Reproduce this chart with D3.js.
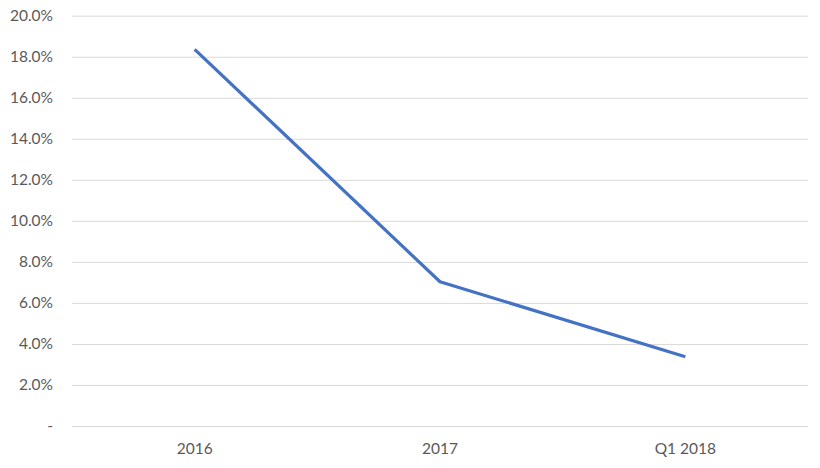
<!DOCTYPE html>
<html>
<head>
<meta charset="UTF-8">
<script src="https://cdn.jsdelivr.net/npm/d3@7"></script>
<style>
  body { margin: 0; background: #ffffff; }
  svg text { font-family: Lato, "Open Sans", sans-serif; fill: #595959; }
</style>
</head>
<body>
<svg width="820" height="468"></svg>
<script>
// chart data
const categories = ["2016", "2017", "Q1 2018"];
const rates = [0.1836, 0.0703, 0.0338];
const yTicks = [0, 0.02, 0.04, 0.06, 0.08, 0.10, 0.12, 0.14, 0.16, 0.18, 0.20];

const svg = d3.select("svg");
const plotLeft = 72, plotRight = 808, plotTop = 15.7, plotBottom = 426;

let x = d3.scaleBand().domain(categories).range([plotLeft, plotRight]);
let y = d3.scaleLinear().domain([0, 0.2]).range([plotBottom, plotTop]);

// gridlines + y labels
let yAxis = d3.axisLeft(y)
  .tickValues(yTicks)
  .tickSize(-(plotRight - plotLeft))
  .tickPadding(19)
  .tickFormat(d => d === 0 ? "-" : d3.format(".1%")(d));

let gy = svg.append("g")
  .attr("transform", "translate(" + plotLeft + ",0)")
  .call(yAxis);
gy.select(".domain").remove();
gy.selectAll(".tick line").attr("stroke", "#d9d9d9").attr("stroke-width", 1);
gy.selectAll(".tick text").attr("font-size", 15.5).style("fill", "#595959");

// x labels
let xAxis = d3.axisBottom(x).tickSize(0).tickPadding(17);
let gx = svg.append("g")
  .attr("transform", "translate(0," + plotBottom + ")")
  .call(xAxis);
gx.select(".domain").remove();
gx.selectAll(".tick text").attr("font-size", 15.5).style("fill", "#595959");

// line
let line = d3.line()
  .x((d, i) => x(categories[i]) + x.bandwidth() / 2)
  .y(d => y(d));

svg.append("path")
  .datum(rates)
  .attr("d", line)
  .attr("fill", "none")
  .attr("stroke", "#4472C4")
  .attr("stroke-width", 3.2)
  .attr("stroke-linejoin", "round");
</script>
</body>
</html>
